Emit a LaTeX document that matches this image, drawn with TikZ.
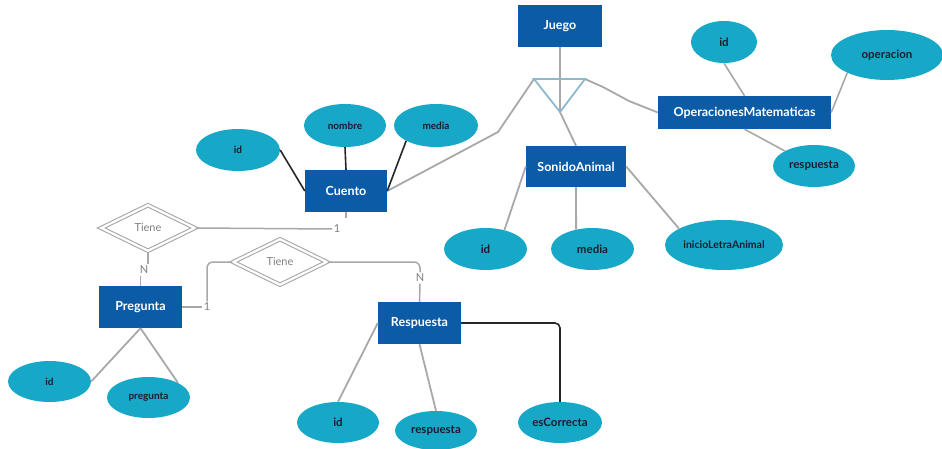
\documentclass[tikz,border=0pt]{standalone}
\usepackage{fontspec}
\setmainfont{Lato}
\usetikzlibrary{shapes.geometric}
\definecolor{boxblue}{HTML}{0C5BA6}
\definecolor{attr}{HTML}{16A8C6}
\definecolor{lgray}{HTML}{A8A8A8}
\definecolor{tri}{HTML}{8CB9CD}
\definecolor{atxt}{HTML}{1C1C30}
\tikzset{
  ent/.style={rectangle, fill=boxblue, text=white, font=\fontsize{12.5}{14}\selectfont\bfseries, minimum height=42pt, inner sep=2pt},
  att/.style={ellipse, fill=attr, text=atxt, inner sep=0pt, font=\fontsize{11.5}{13}\selectfont\bfseries},
  satt/.style={att, font=\fontsize{10}{12}\selectfont\bfseries},
  rel/.style={diamond, draw=lgray, double=white, double distance=2.2pt, line width=1.1pt, minimum width=94pt, minimum height=46pt, inner sep=0pt, text=gray, font=\fontsize{11}{13}\selectfont},
  card/.style={text=gray, inner sep=1.5pt, font=\fontsize{11}{13}\selectfont},
  conn/.style={draw=lgray, line width=1.8pt},
  dconn/.style={draw=black!85, line width=1.6pt},
}
\begin{document}
\begin{tikzpicture}[x=1pt, y=-1pt]
\useasboundingbox (0,0) rectangle (942,449);
% entities
\node[ent, minimum width=84pt] (juego) at (560,26) {Juego};
\node[ent, minimum width=173pt, minimum height=33pt] (om) at (744.5,112.5) {OperacionesMatematicas};
\node[ent, minimum width=82pt] (cuento) at (346,191) {Cuento};
\node[ent, minimum width=100pt, minimum height=41pt] (sa) at (576,166.5) {SonidoAnimal};
\node[ent, minimum width=83pt] (preg) at (140.5,307) {Pregunta};
\node[ent, minimum width=83pt] (resp) at (419.5,323) {Respuesta};
% attributes
\node[att, minimum width=66pt, minimum height=42pt] (omid) at (724,42) {id};
\node[att, minimum width=112pt, minimum height=50pt] (omop) at (887,55) {operacion};
\node[att, minimum width=82pt, minimum height=42pt] (omresp) at (814,166) {respuesta};
\node[satt, minimum width=84pt, minimum height=42pt] (cid) at (238,150) {id};
\node[satt, minimum width=82pt, minimum height=43pt] (cnom) at (345,125.5) {nombre};
\node[satt, minimum width=84pt, minimum height=43pt] (cmed) at (436,125.5) {media};
\node[att, minimum width=83pt, minimum height=42pt] (said) at (485.5,249) {id};
\node[att, minimum width=83pt, minimum height=42pt] (samed) at (592.5,249) {media};
\node[att, minimum width=118pt, minimum height=50pt, font=\fontsize{10.5}{12}\selectfont\bfseries] (sain) at (724,245) {inicioLetraAnimal};
\node[satt, minimum width=83pt, minimum height=41pt] (pid) at (49.5,381.5) {id};
\node[satt, minimum width=83pt, minimum height=41pt] (ppreg) at (148.5,397.5) {pregunta};
\node[att, minimum width=82pt, minimum height=41pt] (rid) at (338,422.5) {id};
\node[att, minimum width=82pt, minimum height=39pt] (rresp) at (436,430.5) {respuesta};
\node[att, minimum width=84pt, minimum height=41pt] (resc) at (560,422.5) {esCorrecta};
% relationships
\node[rel] (t1) at (148,228) {Tiene};
\node[rel] (t2) at (280,262) {Tiene};
\node[card] (one1) at (337,229) {1};
\node[card] (n1) at (144,270) {N};
\node[card] (one2) at (207,307) {1};
\node[card] (n2) at (420,278) {N};
% ISA triangle
\coordinate (tl) at (534,79);
\coordinate (tr) at (585,79);
\coordinate (ap) at (560,112);
\coordinate (b1) at (498,132);
\coordinate (b2) at (603,87);
\coordinate (b3) at (629,101);
\draw[conn] (juego.south) -- (ap) -- (sa.north);
\draw[conn] (tl) -- (b1) -- (cuento.east);
\draw[conn] (tr) -- (b2) -- (b3) -- (om.west);
\draw[tri, line width=1.8pt, line join=miter] (tl) -- (tr) -- (ap) -- cycle;
% attribute connectors
\draw[conn, line width=1.6pt] (omid.south) -- (om.north);
\draw[conn, line width=1.6pt] (omop.south west) -- (om.east);
\draw[conn, line width=1.6pt] (om.south) -- (omresp.north west);
\draw[dconn] (cid.east) -- (cuento.west);
\draw[dconn] (cnom.south) -- (cuento.north);
\draw[dconn] (cmed.south west) -- (cuento.east);
\draw[conn] (sa.west) -- (said.45);
\draw[conn] (sa.south) -- (samed.130);
\draw[conn] (sa.east) -- (sain.160);
\draw[conn] (preg.south) -- (pid.east);
\draw[conn] (preg.south) -- (ppreg.north east);
\draw[conn] (resp.west) -- (rid.north);
\draw[conn] (resp.south) -- (rresp.north);
\draw[dconn, rounded corners=5pt] (resp.east) -| (resc.north);
% relationship connectors
\coordinate (cstub) at ([yshift=-6pt]cuento.south);
\draw[conn, line width=1.5pt] (cuento.south) -- (cstub);
\draw[conn, line width=1.5pt] (t1.east) -- (one1.west);
\draw[conn, line width=1.5pt] (t1.south) -- (t1.south |- n1.north);
\draw[conn, line width=1.5pt] (preg.north |- n1.south) -- (preg.north);
\draw[conn, line width=1.5pt] (preg.east) -- (one2.west);
\draw[conn, line width=1.5pt, rounded corners=6pt] (one2.north) |- (t2.west);
\draw[conn, line width=1.5pt, rounded corners=6pt] (t2.east) -| (n2.north);
\draw[conn, line width=1.5pt] (n2.south) -- (resp.north);
\end{tikzpicture}
\end{document}
